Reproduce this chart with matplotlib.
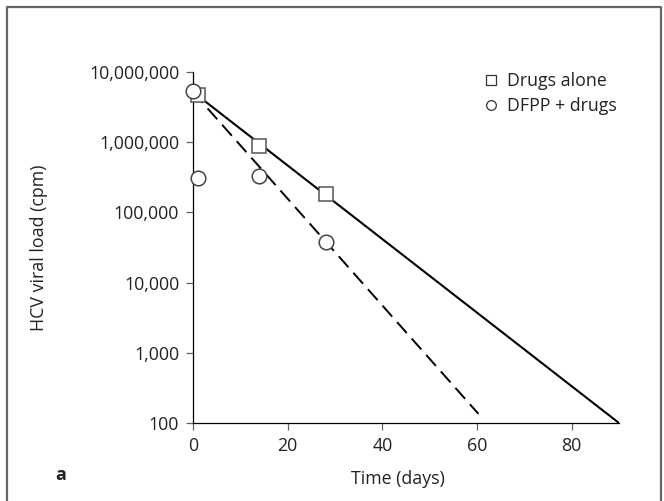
import matplotlib.pyplot as plt
from matplotlib.ticker import FuncFormatter, NullLocator
from matplotlib.lines import Line2D

plt.rcParams['font.family'] = ['Open Sans', 'DejaVu Sans']

# measured points
drugs_days = [1, 14, 28]
drugs_load = [4.7e6, 8.9e5, 1.8e5]
dfpp_days = [0, 1, 14, 28]
dfpp_load = [5.4e6, 3.1e5, 3.3e5, 3.8e4]

# fitted regression lines (end points)
drugs_fit_days = [0, 90]
drugs_fit_load = [5.2e6, 100]
dfpp_fit_days = [0, 60.3]
dfpp_fit_load = [5.2e6, 135]

yticks = [1e2, 1e3, 1e4, 1e5, 1e6, 1e7]
xticks = [0, 20, 40, 60, 80]

W, H = 664, 501
fig = plt.figure(figsize=(W / 100, H / 100), dpi=100)
ax = fig.add_axes([193 / W, 1 - 423 / H, 426 / W, 351 / H])

ax.plot(drugs_fit_days, drugs_fit_load, color='black', lw=1.5, zorder=2,
        solid_capstyle='butt')
ax.plot(dfpp_fit_days, dfpp_fit_load, color='black', lw=1.4,
        dashes=(7.5, 3.8), zorder=2)
ax.plot(drugs_days, drugs_load, ls='none', marker='s', ms=9.5, mfc='white',
        mec='#555555', mew=1.1, zorder=3, clip_on=False)
ax.plot(dfpp_days, dfpp_load, ls='none', marker='o', ms=10.5, mfc='white',
        mec='#444444', mew=1.1, zorder=4, clip_on=False)

ax.set_yscale('log')
ax.set_xlim(0, 90)
ax.set_ylim(100, 1e7)
ax.set_yticks(yticks)
ax.yaxis.set_minor_locator(NullLocator())
ax.yaxis.set_major_formatter(FuncFormatter(lambda v, p: f'{int(round(v)):,}'))
ax.set_xticks(xticks)

for s in ['top', 'right']:
    ax.spines[s].set_visible(False)
for s in ['left', 'bottom']:
    ax.spines[s].set_linewidth(0.9)
ax.tick_params(direction='out', length=5, width=0.9, color='#666666',
               labelsize=12.8, pad=5, labelcolor='#222222')

ax.set_xlabel('Time (days)', fontsize=12.8, color='#222222')
ax.xaxis.set_label_coords(0.48, -0.135)
ax.set_ylabel('HCV viral load (cpm)', fontsize=12.8, color='#222222')
ax.yaxis.set_label_coords(-0.34, 0.5)

handles = [
    Line2D([], [], ls='none', marker='s', ms=7, mfc='white', mec='#333333', mew=0.9),
    Line2D([], [], ls='none', marker='o', ms=7, mfc='white', mec='#333333', mew=0.9),
]
leg = fig.legend(handles, ['Drugs alone', 'DFPP + drugs'], loc='upper left',
                 bbox_to_anchor=(484 / W, 1 - 72 / H), frameon=False,
                 fontsize=12.8, handletextpad=0.5, handlelength=0.8,
                 labelspacing=0.42, borderpad=0, borderaxespad=0)
for t in leg.get_texts():
    t.set_color('#222222')

fig.text(55 / W, 1 - 475 / H, 'a', fontsize=13, fontweight='bold',
         va='center', color='#222222')

# panel frame (left, top, right edges)
fig.add_artist(Line2D([7 / W, 7 / W, 661 / W, 661 / W],
                      [0.0, 1 - 7 / H, 1 - 7 / H, 0.0],
                      transform=fig.transFigure, color='#666666', lw=1.6))

fig.savefig('out.png', dpi=100)
